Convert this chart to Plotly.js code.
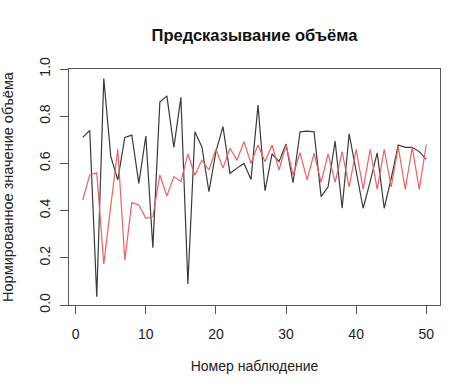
<!DOCTYPE html>
<html>
<head>
<meta charset="utf-8">
<script src="https://cdn.plot.ly/plotly-3.0.1.min.js"></script>
<style>html,body{margin:0;padding:0;background:#fff;}#chart{width:475px;height:392px;}</style>
</head>
<body>
<div id="chart"></div>
<script>
const observation = Array.from({length: 50}, (_, i) => i + 1);
const actual = [0.71, 0.74, 0.035, 0.96, 0.63, 0.53, 0.71, 0.72, 0.515, 0.716,
                0.243, 0.86, 0.886, 0.668, 0.88, 0.089, 0.734, 0.67, 0.48, 0.65,
                0.756, 0.558, 0.58, 0.60, 0.532, 0.847, 0.484, 0.64, 0.607, 0.682,
                0.518, 0.734, 0.737, 0.734, 0.459, 0.501, 0.695, 0.41, 0.725, 0.57,
                0.41, 0.523, 0.645, 0.41, 0.537, 0.678, 0.668, 0.668, 0.65, 0.617];
const predicted = [0.445, 0.551, 0.56, 0.174, 0.42, 0.66, 0.19, 0.434, 0.424, 0.367,
                   0.374, 0.551, 0.462, 0.544, 0.523, 0.64, 0.55, 0.614, 0.572, 0.66,
                   0.58, 0.664, 0.614, 0.692, 0.60, 0.678, 0.607, 0.678, 0.572, 0.678,
                   0.55, 0.645, 0.53, 0.643, 0.52, 0.64, 0.52, 0.65, 0.50, 0.66,
                   0.49, 0.66, 0.49, 0.66, 0.50, 0.67, 0.49, 0.668, 0.49, 0.68];
const xTicks = [0, 10, 20, 30, 40, 50];
const yTicks = [0.0, 0.2, 0.4, 0.6, 0.8, 1.0];
const yTickText = ['0.0', '0.2', '0.4', '0.6', '0.8', '1.0'];

const font = {family: 'Liberation Sans, Arial, sans-serif', size: 14, color: '#222'};
const data = [
  {x: observation, y: actual, type: 'scatter', mode: 'lines', line: {color: '#3a3a3a', width: 1.2}, hoverinfo: 'skip'},
  {x: observation, y: predicted, type: 'scatter', mode: 'lines', line: {color: '#e46464', width: 1.2}, hoverinfo: 'skip'}
];
const layout = {
  width: 475, height: 392,
  margin: {l: 69, r: 35, t: 69, b: 87},
  paper_bgcolor: '#fff', plot_bgcolor: '#fff',
  showlegend: false,
  font: font,
  title: {text: '<b>Предсказывание объёма</b>', font: {family: font.family, size: 16.5, color: '#111'},
          x: 0.5, xref: 'paper', xanchor: 'center', y: 1 - 35/392, yanchor: 'middle', yref: 'container'},
  xaxis: {
    range: [-0.96, 51.96], autorange: false,
    tickvals: xTicks, ticktext: xTicks.map(String),
    ticks: 'outside', ticklen: 8, tickcolor: '#555', tickwidth: 1,
    ticklabelstandoff: 8,
    showline: true, mirror: true, linecolor: '#555', linewidth: 1,
    showgrid: false, zeroline: false,
    tickfont: font,
    title: {text: 'Номер наблюдение', font: font, standoff: 20}
  },
  yaxis: {
    range: [0, 1], autorange: false,
    tickvals: yTicks, ticktext: yTickText, tickangle: -90,
    ticks: 'outside', ticklen: 8, tickcolor: '#555', tickwidth: 1,
    ticklabelstandoff: 4,
    showline: true, mirror: true, linecolor: '#555', linewidth: 1,
    showgrid: false, zeroline: false,
    tickfont: font,
    title: {text: 'Нормированное значение объёма', font: {family: font.family, size: 14.5, color: '#222'}, standoff: 20}
  }
};
Plotly.newPlot('chart', data, layout, {staticPlot: true, displayModeBar: false});
</script>
</body>
</html>
